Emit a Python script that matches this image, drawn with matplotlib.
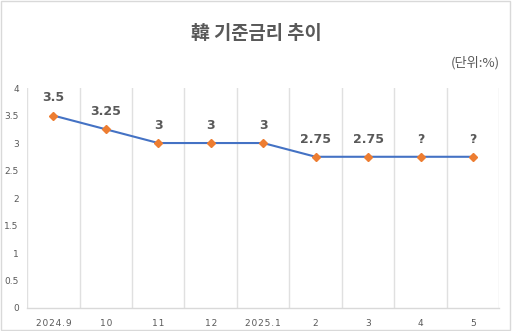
import matplotlib
matplotlib.use("Agg")
import matplotlib.pyplot as plt
from matplotlib.patches import Rectangle

plt.rcParams['font.family'] = ['Noto Sans CJK KR', 'DejaVu Sans']

months = ["2024.9", "10", "11", "12", "2025.1", "2", "3", "4", "5"]
rates = [3.5, 3.25, 3.0, 3.0, 3.0, 2.75, 2.75, 2.75, 2.75]
labels = ["3.5", "3.25", "3", "3", "3", "2.75", "2.75", "?", "?"]
y_ticks = [0, 0.5, 1, 1.5, 2, 2.5, 3, 3.5, 4]
y_tick_labels = ["0", "0.5", "1", "1.5", "2", "2.5", "3", "3.5", "4"]

fig = plt.figure(figsize=(5.12, 3.31), dpi=100)
fig.patch.set_facecolor("white")
fig.patches.append(Rectangle((0.002, 0.003), 0.994, 0.994, transform=fig.transFigure,
                             fill=False, edgecolor="#d9d9d9", linewidth=1.0))

ax = fig.add_axes([0.053, 0.0695, 0.922, 0.6645])
x = list(range(len(months)))
ax.plot(x, rates, color="#4472C4", linewidth=1.5, marker="D", markersize=4.5,
        markerfacecolor="#ED7D31", markeredgecolor="#ED7D31", zorder=3)

for xi, yi, lab in zip(x, rates, labels):
    ax.annotate(lab, (xi, yi), xytext=(0, 8), textcoords="offset points",
                ha="center", va="bottom", fontsize=9, fontweight="bold",
                color="#595959", family=["DejaVu Sans"])

ax.set_xlim(-0.5, len(months) - 0.5)
ax.set_ylim(0, 4)
ax.set_yticks(y_ticks)
ax.set_yticklabels(y_tick_labels, fontsize=6.5, color="#595959", family=["DejaVu Sans"])
ax.set_xticks(x)
ax.set_xticklabels(["\u200a".join(m) for m in months], fontsize=6.5, color="#595959",
                   family=["DejaVu Sans"])
ax.tick_params(axis="x", length=0, pad=8)
ax.tick_params(axis="y", length=0, pad=6)

# vertical gridlines at category boundaries
for b in range(len(months) + 1):
    ax.axvline(b - 0.5, color="#e0e0e0", linewidth=1.0, zorder=0)

for side in ["top", "right", "left"]:
    ax.spines[side].set_visible(False)
ax.spines["bottom"].set_color("#d9d9d9")
ax.spines["bottom"].set_linewidth(1.0)

fig.text(0.5, 0.9, "韓 기준금리 추이", ha="center", va="center", fontsize=13.5,
         fontweight="bold", color="#595959")
fig.text(0.977, 0.81, "(단위:%)", ha="right", va="center", fontsize=9.5, color="#595959")

fig.savefig("out.png", dpi=100, facecolor="white")
